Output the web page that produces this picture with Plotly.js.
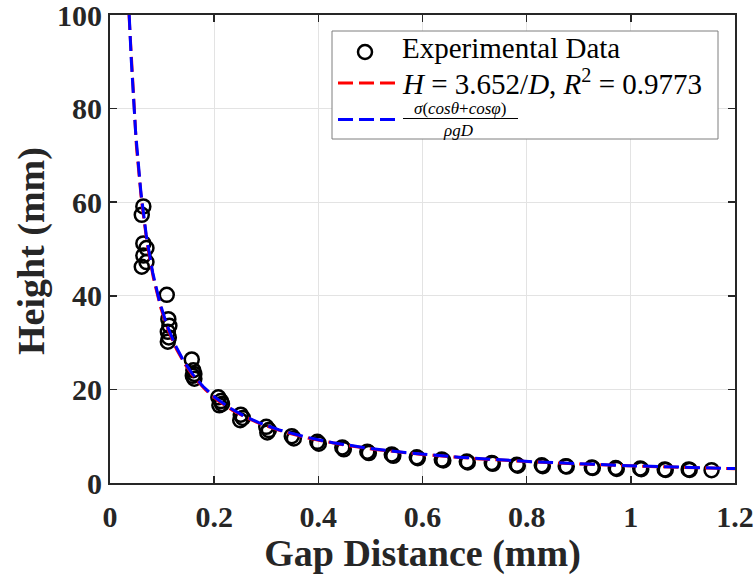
<!DOCTYPE html>
<html><head><meta charset="utf-8">
<script src="https://cdn.plot.ly/plotly-3.0.1.min.js"></script>
<style>html,body{margin:0;padding:0;background:#fff}#chart{width:754px;height:575px}</style>
</head><body><div id="chart"></div>
<script>
// Experimental data: gap distance D (mm) and height H (mm)
const gapExp = [
  0.064, 0.061, 0.064, 0.070, 0.064, 0.070, 0.061,
  0.109, 0.112, 0.114, 0.111, 0.113, 0.111,
  0.157, 0.160, 0.162, 0.159, 0.162,
  0.208, 0.213, 0.210, 0.215,
  0.251, 0.255, 0.250,
  0.300, 0.305, 0.302,
  0.349, 0.353,
  0.398, 0.401, 0.446, 0.449, 0.494, 0.497, 0.541, 0.544,
  0.589, 0.591, 0.637, 0.640, 0.685, 0.687, 0.733, 0.735,
  0.781, 0.783, 0.829, 0.831, 0.875, 0.877, 0.925, 0.927,
  0.971, 0.973, 1.018, 1.020, 1.065, 1.067, 1.111, 1.113, 1.155
];
const heightExp = [
  59.1, 57.3, 51.2, 50.2, 48.6, 47.2, 46.2,
  40.2, 35.0, 33.6, 32.3, 31.1, 30.2,
  26.4, 24.1, 23.3, 22.9, 22.3,
  18.3, 17.5, 16.6, 16.9,
  14.6, 13.9, 13.4,
  12.0, 11.3, 10.8,
  10.0, 9.5,
  8.8, 8.4, 7.6, 7.2, 6.7, 6.4, 6.1, 5.8,
  5.5, 5.3, 5.0, 4.8, 4.6, 4.4, 4.3, 4.1,
  3.9, 3.7, 3.8, 3.6, 3.6, 3.5, 3.3, 3.2,
  3.2, 3.0, 3.1, 2.95, 2.9, 2.8, 2.9, 2.8, 2.75
];
// Fit coefficients (H = k / D)
const fitCoefRed = 3.652;
const fitCoefBlue = 3.69;
const curveDMax = 1.2;
const xTickVals = [0, 0.2, 0.4, 0.6, 0.8, 1, 1.2];
const xTickText = ['0', '0.2', '0.4', '0.6', '0.8', '1', '1.2'];
const yTickVals = [0, 20, 40, 60, 80, 100];
const yTickText = ['0', '20', '40', '60', '80', '100'];
const xTitle = 'Gap Distance (mm)';
const yTitle = 'Height (mm)';
const legendLabels = ['Experimental Data', '<i>H</i> = 3.652/<i>D</i>, <i>R</i><sup>2</sup> = 0.9773',
  '<i>σ</i>(<i>cosθ</i>+<i>cosφ</i>)', '<i>ρgD</i>'];

function fitCurve(k) {
  const dMin = k / 100;
  const xs = [], ys = [];
  const n = 400;
  for (let i = 0; i <= n; i++) {
    const t = i / n;
    const d = dMin + (curveDMax - dMin) * t * t;
    xs.push(d); ys.push(k / d);
  }
  return {xs, ys};
}
const red = fitCurve(fitCoefRed);
const blue = fitCurve(fitCoefBlue);

const W = 754, H = 575, L = 110, R = 19, T = 15, B = 92;
const pw = W - L - R, ph = H - T - B;
const px = v => (v - L) / pw;
const py = v => (H - B - v) / ph;

const dashPat = '15px,6px';
const traces = [
  {x: gapExp, y: heightExp, mode: 'markers', type: 'scatter', name: legendLabels[0],
   marker: {symbol: 'circle-open', size: 14, color: '#000', line: {width: 2.5, color: '#000'}}},
  {x: red.xs, y: red.ys, mode: 'lines', type: 'scatter', name: 'fit',
   line: {color: '#ff0000', width: 3, dash: dashPat}},
  {x: blue.xs, y: blue.ys, mode: 'lines', type: 'scatter', name: 'theory',
   line: {color: '#0000ff', width: 3, dash: dashPat}}
];

const tickFont = {family: 'Liberation Serif, Times New Roman, serif', size: 30, color: '#262626', weight: 'bold'};
const titleFont = {family: 'Liberation Serif, Times New Roman, serif', size: 38, color: '#262626', weight: 'bold'};
const legFont = {family: 'Liberation Serif, Times New Roman, serif', size: 29, color: '#000'};

const shapes = [
  {type: 'rect', xref: 'paper', yref: 'paper', x0: px(332), x1: px(718), y0: py(139), y1: py(31),
   line: {color: '#7f7f7f', width: 1}, fillcolor: '#fff', layer: 'above'},
  {type: 'circle', xref: 'paper', yref: 'paper', x0: px(365 - 7), x1: px(365 + 7), y0: py(52 + 7), y1: py(52 - 7),
   line: {color: '#000', width: 2.5}, layer: 'above'},
  {type: 'line', xref: 'paper', yref: 'paper', x0: px(338), x1: px(397), y0: py(83), y1: py(83),
   line: {color: '#ff0000', width: 3, dash: dashPat}, layer: 'above'},
  {type: 'line', xref: 'paper', yref: 'paper', x0: px(338), x1: px(397), y0: py(119.5), y1: py(119.5),
   line: {color: '#0000ff', width: 3, dash: dashPat}, layer: 'above'},
  {type: 'line', xref: 'paper', yref: 'paper', x0: px(403), x1: px(518), y0: py(118.5), y1: py(118.5),
   line: {color: '#000', width: 1}, layer: 'above'}
];

const annotations = [
  {xref: 'paper', yref: 'paper', x: px(400), y: py(48), xanchor: 'left', yanchor: 'middle', showarrow: false,
   text: legendLabels[0], font: legFont},
  {xref: 'paper', yref: 'paper', x: px(400), y: py(82), xanchor: 'left', yanchor: 'middle', showarrow: false,
   text: legendLabels[1], font: {family: legFont.family, size: 29, color: '#000'}},
  {xref: 'paper', yref: 'paper', x: px(460), y: py(109), xanchor: 'center', yanchor: 'middle', showarrow: false,
   text: legendLabels[2], font: {family: legFont.family, size: 17, color: '#000'}},
  {xref: 'paper', yref: 'paper', x: px(458), y: py(130), xanchor: 'center', yanchor: 'middle', showarrow: false,
   text: legendLabels[3], font: {family: legFont.family, size: 17, color: '#000'}},
  {xref: 'paper', yref: 'paper', x: px(31), y: py(251), xanchor: 'center', yanchor: 'middle', showarrow: false,
   textangle: -90, text: yTitle, font: titleFont}
];

const axisCommon = {
  showline: true, linecolor: '#262626', linewidth: 2, mirror: 'ticks',
  ticks: 'inside', ticklen: 7, tickwidth: 1.5, tickcolor: '#262626',
  showgrid: true, gridcolor: '#e3e3e3', gridwidth: 1, zeroline: false,
  tickfont: tickFont, tickmode: 'array', ticklabeloverflow: 'allow'
};

const layout = {
  width: W, height: H,
  margin: {l: L, r: R, t: T, b: B},
  paper_bgcolor: '#fff', plot_bgcolor: '#fff',
  showlegend: false,
  xaxis: Object.assign({}, axisCommon, {range: [0, 1.2], tickvals: xTickVals, ticktext: xTickText,
    ticklabelstandoff: 6,
    title: {text: xTitle, font: titleFont, standoff: 6}}),
  yaxis: Object.assign({}, axisCommon, {range: [0, 100], tickvals: yTickVals, ticktext: yTickText}),
  shapes: shapes,
  annotations: annotations
};

Plotly.newPlot('chart', traces, layout, {displayModeBar: false, staticPlot: true});
</script>
</body></html>
